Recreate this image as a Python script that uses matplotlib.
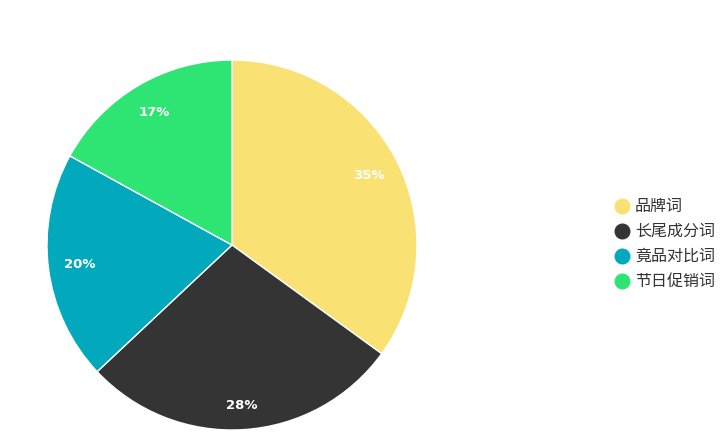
import matplotlib
matplotlib.use("Agg")
import matplotlib.pyplot as plt

categories = ["品牌词", "长尾成分词", "竟品对比词", "节日促销词"]
values = [35, 28, 20, 17]
colors = ["#fae174", "#343434", "#02a8bb", "#2ee574"]

plt.rcParams['font.family'] = ['Noto Sans CJK SC', 'DejaVu Sans']

W, H = 721, 434
fig = plt.figure(figsize=(W / 100, H / 100), dpi=100)
ax = fig.add_axes([0, 0, 1, 1])
ax.set_xlim(0, W)
ax.set_ylim(0, H)
ax.set_aspect('equal')
ax.axis('off')

wedges, texts, autotexts = ax.pie(
    values, colors=colors, startangle=90, counterclock=False,
    center=(232, H - 245), radius=185,
    autopct='%d%%', pctdistance=0.83,
    wedgeprops=dict(edgecolor='white', linewidth=1),
    textprops=dict(color='white', fontsize=9.5, fontweight='bold',
                   family=['DejaVu Sans']))
# the bottom label sits a little further out in the reference
x, y = autotexts[1].get_position()
cx, cy = 232, H - 245
autotexts[1].set_position((cx + (x - cx) * 1.05, cy + (y - cy) * 1.05))
ax.set_xlim(0, W)
ax.set_ylim(0, H)

# legend, drawn by hand
for i, (lab, c) in enumerate(zip(categories, colors)):
    yy = H - (206 + 25 * i)
    ax.plot([622], [yy], marker='o', markersize=10.5, color=c, clip_on=False)
    ax.text(635, yy, lab, fontsize=11.5, color='#333333',
            va='center', ha='left')

fig.savefig("out.png", dpi=100)
